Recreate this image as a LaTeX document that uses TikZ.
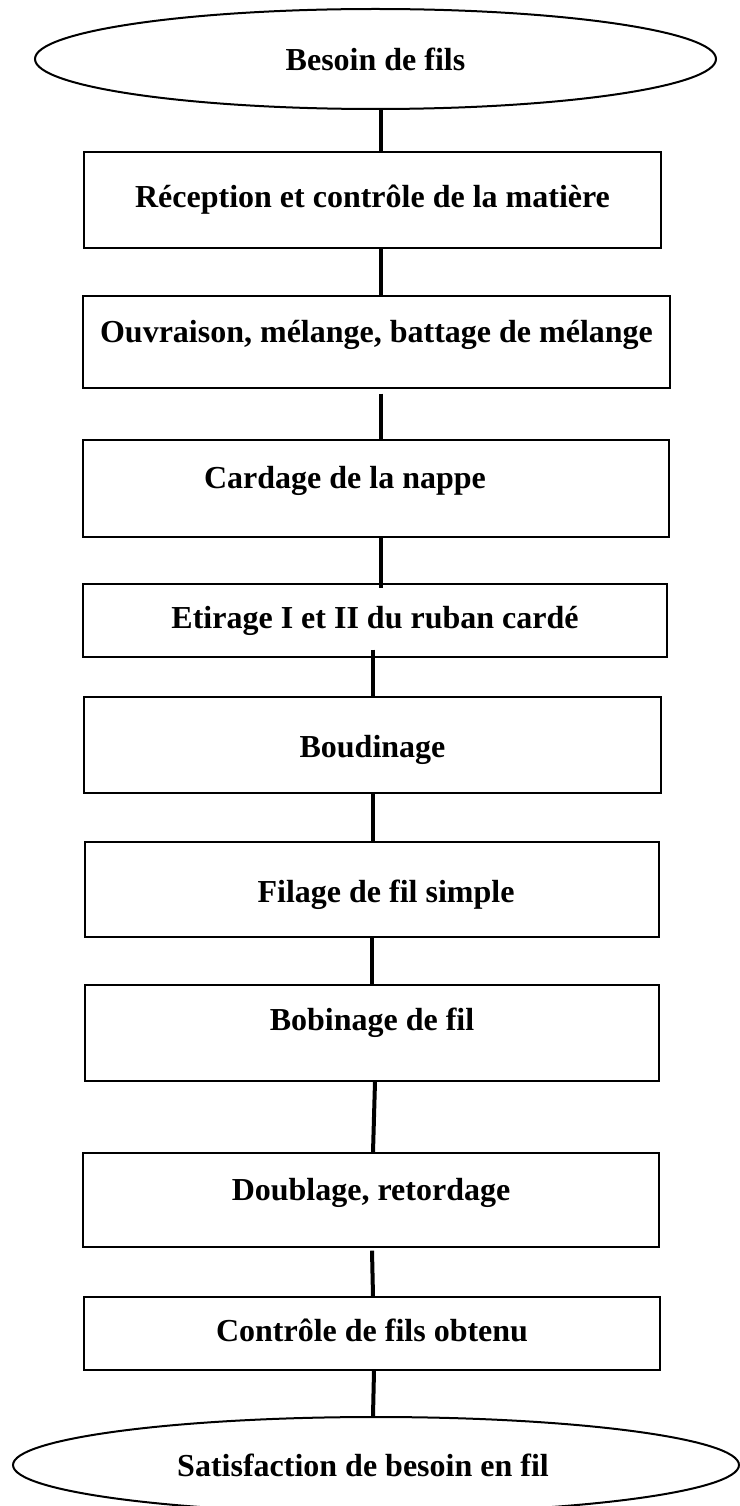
\documentclass[tikz,border=0pt]{standalone}
\usepackage{fontspec}
\setmainfont{Liberation Serif}
\usetikzlibrary{shapes.geometric}

\begin{document}
\begin{tikzpicture}[x=1pt, y=-1pt,
    stepbox/.style={draw=black, line width=1.4pt, rectangle, inner sep=0pt,
                    text height=22pt, text depth=7pt,
                    font=\fontsize{32}{38}\selectfont\bfseries},
    endpoint/.style={draw=black, line width=2pt, ellipse, inner sep=0pt,
                     font=\fontsize{32}{38}\selectfont\bfseries},
    link/.style={line width=4pt}]
    \useasboundingbox (0,0) rectangle (739,1506);

    \node[endpoint, minimum width=681, minimum height=100] (besoin) at (375.5,59) {Besoin de fils};

    \node[stepbox, minimum width=577, minimum height=96] (reception) at (372.5,200) {Réception et contrôle de la matière};
    \node[stepbox, minimum width=587, minimum height=92, text depth=21pt] (ouvraison) at (376.5,342) {Ouvraison, mélange, battage de mélange};
    \node[stepbox, minimum width=586, minimum height=97, text depth=23pt] (cardage) at (376,488.5) {Cardage de la nappe\hspace*{62pt}};
    \node[stepbox, minimum width=584, minimum height=73] (etirage) at (375,620.5) {Etirage I et II du ruban cardé};
    \node[stepbox, minimum width=577, minimum height=96, text height=32pt] (boudinage) at (372.5,745) {Boudinage};
    \node[stepbox, minimum width=574, minimum height=95, text height=32pt] (filage) at (372,889.5) {\hspace*{28pt}Filage de fil simple};
    \node[stepbox, minimum width=574, minimum height=96, text depth=27pt] (bobinage) at (372,1033) {Bobinage de fil};
    \node[stepbox, minimum width=576, minimum height=94, text depth=21pt] (doublage) at (371,1200) {Doublage, retordage};
    \node[stepbox, minimum width=576, minimum height=73] (controle) at (372,1333.5) {Contrôle de fils obtenu};

    \node[endpoint, minimum width=726, minimum height=96] (satisfaction) at (376,1465) {Satisfaction de besoin en fil\hspace*{26pt}};

    % liaisons
    \draw[link] ([xshift=5.5pt]besoin.south) -- ([xshift=8.5pt]reception.north);
    \draw[link] ([xshift=8.5pt]reception.south) -- ([xshift=4.5pt]ouvraison.north);
    \draw[link] ([xshift=4.5pt,yshift=-5pt]ouvraison.south) -- ([xshift=5pt]cardage.north);
    \draw[link] ([xshift=5pt]cardage.south) -- ([xshift=6pt,yshift=-5pt]etirage.north);
    \draw[link] ([xshift=-2pt,yshift=8pt]etirage.south) -- ([xshift=0.5pt]boudinage.north);
    \draw[link] ([xshift=0.5pt]boudinage.south) -- ([xshift=1pt]filage.north);
    \draw[link] (filage.south) -- (bobinage.north);
    \draw[link] ([xshift=3pt]bobinage.south) -- ([xshift=2pt]doublage.north);
    \draw[link] ([xshift=1pt,yshift=-3pt]doublage.south) -- ([xshift=1pt]controle.north);
    \draw[link] ([xshift=2pt]controle.south) -- ([xshift=-3pt]satisfaction.north);
\end{tikzpicture}
\end{document}
